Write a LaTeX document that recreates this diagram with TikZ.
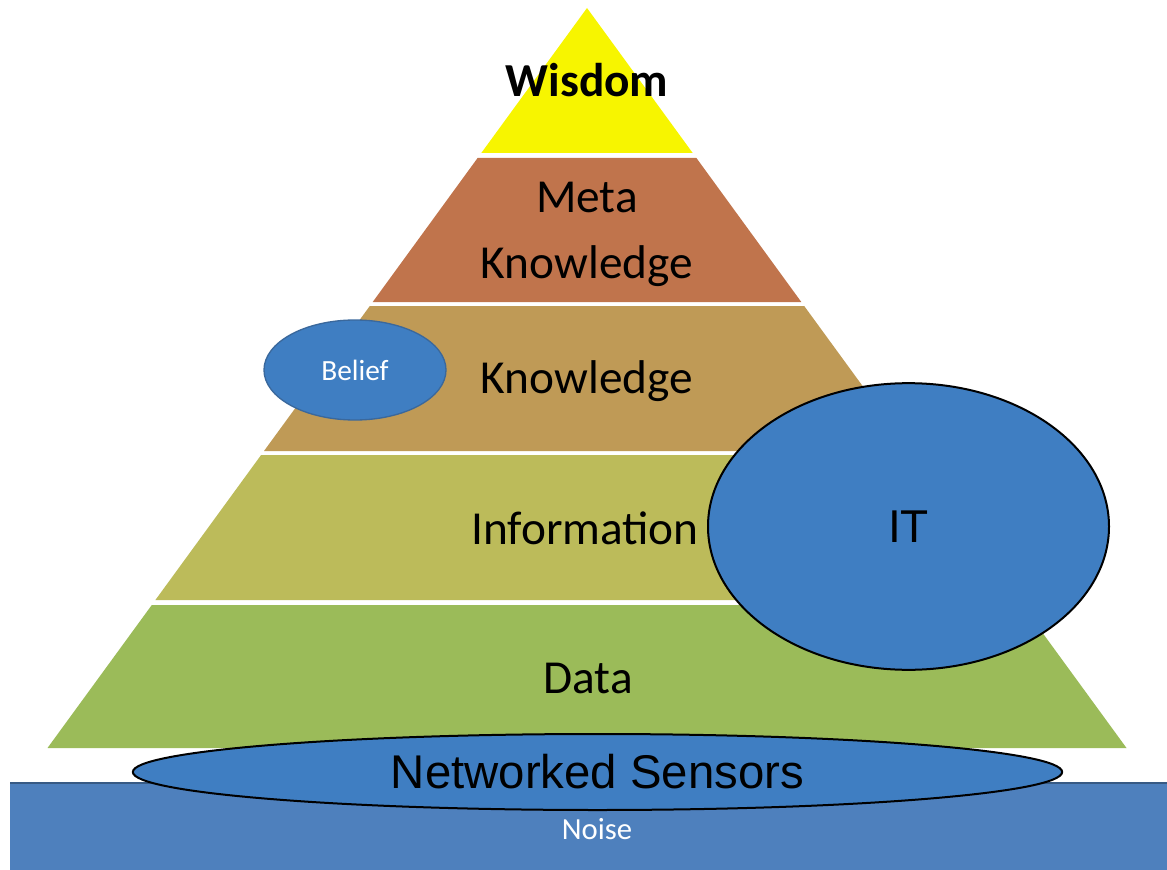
\documentclass[tikz,border=0pt]{standalone}
\usepackage{fontspec}
\setmainfont{Carlito}
\newfontfamily\arialfont{Liberation Sans}
\usepackage{xcolor}
\usepackage{tikz}
\usetikzlibrary{shapes.geometric}

\definecolor{wisdomcol}{HTML}{F7F500}
\definecolor{metacol}{HTML}{C0744C}
\definecolor{knowcol}{HTML}{BF9A56}
\definecolor{infocol}{HTML}{BCBB5A}
\definecolor{datacol}{HTML}{9BBB59}
\definecolor{ovalcol}{HTML}{3F7EC2}
\definecolor{noisecol}{HTML}{4E80BD}
\definecolor{beliefedge}{HTML}{3A689C}

\begin{document}
\begin{tikzpicture}[x=0.75pt, y=-0.75pt,
  level/.style={anchor=base, inner sep=0pt, font=\fontsize{35.5}{48.75}\selectfont},
  oval/.style={shape=ellipse, draw=black, line width=1.5pt, fill=ovalcol, inner sep=0pt},
  whitetext/.style={inner sep=0pt, text=white}]
 \useasboundingbox (0,0) rectangle (1167,870);
 % pyramid layers
 \fill [wisdomcol] (587,8) -- (692.7,153) -- (481.3,153) -- cycle;
 \fill [metacol] (477.6,158) -- (696.4,158) -- (801.3,302) -- (372.7,302) -- cycle;
 \fill [knowcol] (369.8,306) -- (804.2,306) -- (910,451) -- (264,451) -- cycle;
 \fill [infocol] (261.1,455) -- (912.9,455) -- (1018.6,600) -- (155.4,600) -- cycle;
 \fill [datacol] (151.8,605) -- (1022.2,605) -- (1126.5,748) -- (47.5,748) -- cycle;
 \node (wisdom) at (587,97) [level] {\bfseries Wisdom};
 \node (meta) at (587,213) [level] {Meta};
 \node (metaknow) at (587,278) [level] {Knowledge};
 \node (know) at (587,393) [level] {Knowledge};
 \node (info) at (585,544) [level] {Information};
 \node (data) at (588,693) [level] {Data};

 % ovals
 \node (belief) at (355,370) [shape=ellipse, draw=beliefedge, line width=1pt, fill=ovalcol,
   minimum width=136.5pt, minimum height=75pt, whitetext, font=\fontsize{22}{26}\selectfont] {Belief};
 \node (it) at (908.5,526.5) [oval, minimum width=300.75pt, minimum height=215pt,
   font=\arialfont\fontsize{34.5}{40}\selectfont] {IT};

 % noise floor
 \fill [noisecol] (10,783) rectangle (1167,870);
 \draw [noisecol!70!black, line width=1pt] (10,783) -- (1167,783);
 \node (noise) at (597,829) [whitetext, font=\fontsize{23}{27}\selectfont] {Noise};
 \node (sensors) at (597.5,772) [oval, minimum width=697pt, minimum height=57pt,
   font=\arialfont\fontsize{35.5}{42}\selectfont] {Networked Sensors};
\end{tikzpicture}
\end{document}
